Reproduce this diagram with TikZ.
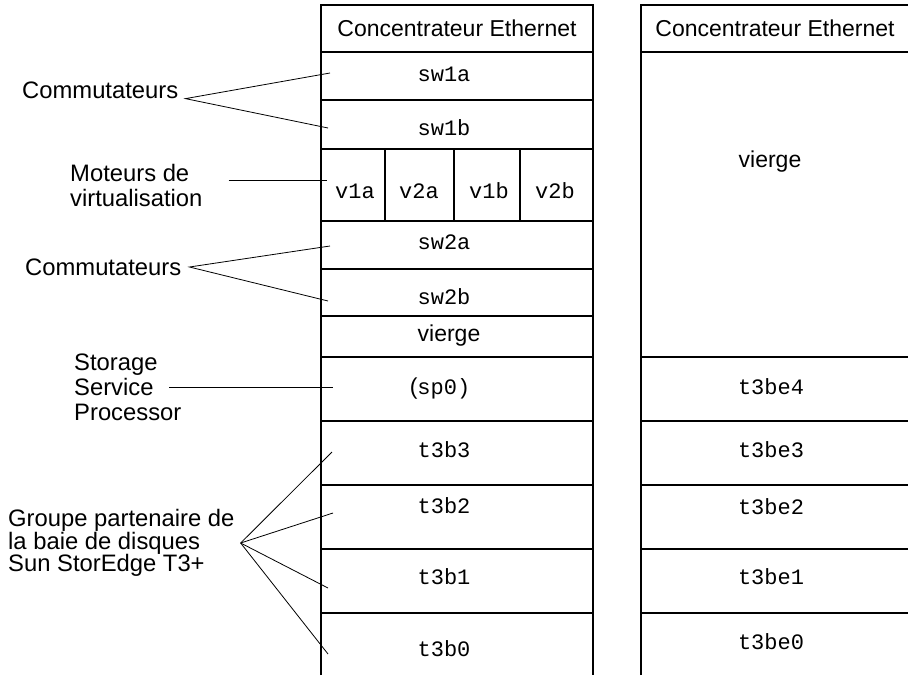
\documentclass[tikz,border=0pt]{standalone}
\usepackage{fontspec}
\setmainfont{Liberation Sans}
\setmonofont{Liberation Mono}
\usetikzlibrary{calc}

\tikzset{
  baie/.style={line width=1.8pt},
  renvoi/.style={line width=0.8pt},
  legende/.style={inner sep=0pt,align=left,font=\fontsize{23.8}{25}\selectfont},
  titre/.style={inner sep=0pt,font=\fontsize{23}{25}\selectfont},
  etiq/.style={inner sep=0pt,font=\fontsize{22}{24}\selectfont\ttfamily},
}

\begin{document}
\begin{tikzpicture}[x=1pt,y=-1pt]
  \useasboundingbox (0,0) rectangle (908,675);

  % baie de gauche
  \draw[baie] (321,675) -- (321,5) -- (593,5) -- (593,675);
  \foreach \y in {52,100,149,221,269,316,357,421,485,549,613}
  {
    \draw[baie] (321,\y) -- (593,\y);
  }
  \foreach \x in {385,454,520}
    \draw[baie] (\x,149) -- (\x,221);

  % baie d'extension
  \draw[baie] (641,675) -- (641,5) -- (908,5);
  \foreach \y in {52,357,421,485,549,613}
    \draw[baie] (641,\y) -- (908,\y);

  % contenu
  \node[titre] (hubA) at (457,28) {Concentrateur Ethernet};
  \node[etiq] (sw1a) at (444,74) {sw1a};
  \node[etiq] (sw1b) at (444,128) {sw1b};
  \node[etiq] (v1a) at (355,191) {v1a};
  \node[etiq] (v2a) at (419,191) {v2a};
  \node[etiq] (v1b) at (489,191) {v1b};
  \node[etiq] (v2b) at (555,191) {v2b};
  \node[etiq] (sw2a) at (444,242) {sw2a};
  \node[etiq] (sw2b) at (444,297) {sw2b};
  \node[titre] (vide) at (449,336) {vierge};
  \node[titre] (sp0) at (440,389) {(\fontsize{22}{24}\selectfont\ttfamily sp0)};
  \node[etiq] (t3b3) at (444,450) {t3b3};
  \node[etiq] (t3b2) at (444,506) {t3b2};
  \node[etiq] (t3b1) at (444,577) {t3b1};
  \node[etiq] (t3b0) at (444,649) {t3b0};

  \node[titre] (hubB) at (775,28) {Concentrateur Ethernet};
  \node[titre] (videB) at (770,162) {vierge};
  \node[etiq] (t3be4) at (771,387) {t3be4};
  \node[etiq] (t3be3) at (771,450) {t3be3};
  \node[etiq] (t3be2) at (771,507) {t3be2};
  \node[etiq] (t3be1) at (771,577) {t3be1};
  \node[etiq] (t3be0) at (771,642) {t3be0};

  % légendes
  \node[legende,anchor=west] (comm1) at (22,90) {Commutateurs};
  \node[legende,anchor=west] (moteurs) at (70,185) {Moteurs de\\virtualisation};
  \node[legende,anchor=west] (comm2) at (25,267) {Commutateurs};
  \node[legende,anchor=west] (ssp) at (74,387) {Storage\\Service\\Processor};
  \node[legende,anchor=west,font=\fontsize{23.8}{22.5}\selectfont] (groupe) at (8,543)
    {Groupe partenaire de\\la baie de disques\\Sun StorEdge T3+};

  \coordinate (pSw1a) at (330,73);
  \coordinate (pSw1b) at (328,128);
  \coordinate (pMot) at (327,180);
  \coordinate (pSw2a) at (330,246);
  \coordinate (pSw2b) at (328,301);
  \coordinate (pSp) at (333,387);
  \coordinate (pT3) at (332,452);
  \coordinate (pT2) at (333,513);
  \coordinate (pT1) at (328,588);
  \coordinate (pT0) at (328,654);

  \coordinate (G) at ([xshift=6pt]groupe.east);

  \draw[renvoi] (pSw1a) -- ([xshift=7pt]comm1.south east) -- (pSw1b);
  \draw[renvoi] ([xshift=26pt]moteurs.east |- pMot) -- (pMot);
  \draw[renvoi] (pSw2a) -- ([xshift=8pt]comm2.east) -- (pSw2b);
  \draw[renvoi] ([xshift=95pt]ssp.west |- pSp) -- (pSp);
  \foreach \p in {pT3,pT2,pT1,pT0}
    \draw[renvoi] (G) -- (\p);
\end{tikzpicture}
\end{document}
